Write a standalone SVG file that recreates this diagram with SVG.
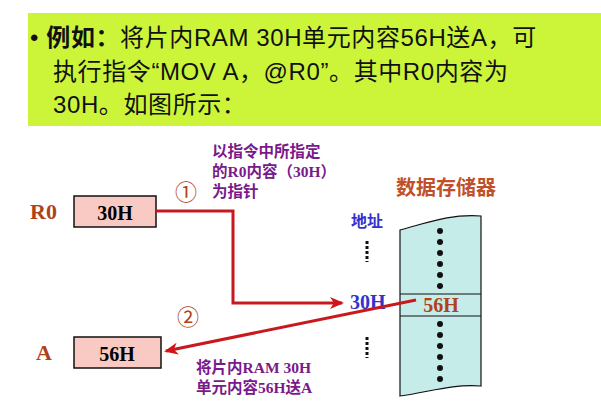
<svg xmlns="http://www.w3.org/2000/svg" width="601" height="416" viewBox="0 0 601 416">
<style>
.t{font-family:"Liberation Sans","Noto Sans CJK SC",sans-serif;font-size:24px;fill:#111;letter-spacing:0.6px}
.s{font-family:"Liberation Serif","Noto Sans CJK SC",serif;font-weight:bold}
.box{fill:#f9c9c4;stroke:#111;stroke-width:1.5}
.p{fill:#7a1a8a;font-size:15.5px}
.ln{fill:none;stroke:#c8191e;stroke-width:3}
</style>
<defs><marker id="ah2" markerWidth="14" markerHeight="12" refX="12" refY="6" orient="auto" markerUnits="userSpaceOnUse"><path d="M0,0 L14,6 L0,12 L4,6 z" fill="#d0141a"/></marker></defs>
<rect width="601" height="416" fill="#fff"/>
<g id="banner"><rect x="28" y="13" width="573" height="113" fill="#ccf53a"/>
<text class="t" x="30" y="46">•  <tspan font-weight="bold">例如：</tspan>将片内RAM 30H单元内容56H送A，可</text>
<text class="t" x="53" y="80">执行指令“MOV  A，@R0”。其中R0内容为</text>
<text class="t" x="53" y="113">30H。如图所示：</text></g>
<g id="r0"><text class="s" x="30" y="219" font-size="22" fill="#b0421a">R0</text><rect class="box" x="74" y="196" width="82" height="31"/><text class="s" x="115" y="220" font-size="20" text-anchor="middle">30H</text></g>
<g id="a"><text class="s" x="36" y="360" font-size="22" fill="#b0421a">A</text><rect class="box" x="74" y="337" width="87" height="31"/><text class="s" x="117" y="361" font-size="20" text-anchor="middle">56H</text></g>
<g id="mem"><path d="M400,230 C430,222 450,214 481,216 L481,386 C450,384 430,392 400,396 Z" fill="#c6ecea" stroke="#111" stroke-width="1.2"/>
<line x1="400" y1="294" x2="481" y2="294" stroke="#111"/><line x1="400" y1="316" x2="481" y2="316" stroke="#111"/>
<g fill="#111"><circle cx="440" cy="231" r="3"/><circle cx="440" cy="242" r="3"/><circle cx="440" cy="253" r="3"/><circle cx="440" cy="264" r="3"/><circle cx="440" cy="275" r="3"/><circle cx="440" cy="286" r="3"/>
<circle cx="440" cy="324" r="3"/><circle cx="440" cy="335" r="3"/><circle cx="440" cy="346" r="3"/><circle cx="440" cy="357" r="3"/><circle cx="440" cy="368" r="3"/><circle cx="440" cy="379" r="3"/></g>
<text class="s" x="441" y="312" font-size="20" fill="#b0421a" text-anchor="middle">56H</text>
<text class="s" x="396" y="195" font-size="20" fill="#c0502a">数据存储器</text>
<text class="s" x="351" y="227" font-size="16" fill="#3333cc">地址</text>
<line x1="367" y1="241" x2="367" y2="262" stroke="#111" stroke-width="3" stroke-dasharray="3,2"/>
<line x1="367" y1="337" x2="367" y2="358" stroke="#111" stroke-width="3" stroke-dasharray="3,2"/>
<text class="s" x="350" y="309" font-size="20" fill="#3333cc">30H</text></g>
<g id="connectors">
<path class="ln" d="M156,211 H233 V303 H342" marker-end="url(#ah2)"/>
<line class="ln" x1="416" y1="300" x2="166" y2="351" marker-end="url(#ah2)" stroke="#d0141a"/>
</g>
<g id="labels" class="s">
<text x="186" y="200" font-size="22" fill="#b0421a" text-anchor="middle" font-weight="normal">①</text>
<text x="188" y="325" font-size="22" fill="#b0421a" text-anchor="middle" font-weight="normal">②</text>
<text class="p" x="212" y="157">以指令中所指定</text>
<text class="p" x="212" y="177">的R0内容（30H）</text>
<text class="p" x="212" y="197">为指针</text>
<text class="p" x="196" y="373">将片内RAM 30H</text>
<text class="p" x="196" y="393">单元内容56H送A</text>
</g>
</svg>
